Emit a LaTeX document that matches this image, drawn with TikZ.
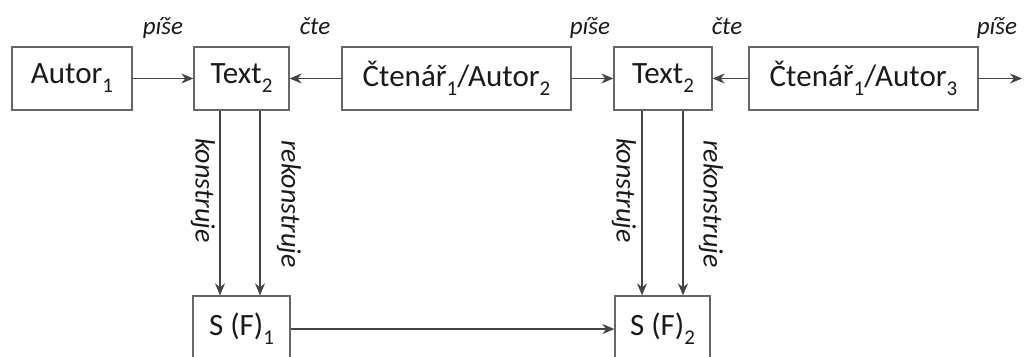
\documentclass[tikz,border=0pt]{standalone}
\usepackage{fontspec}
\setmainfont{Carlito}
\usetikzlibrary{arrows.meta}
\newcommand\lowidx[1]{\raisebox{-9pt}{\fontsize{21}{21}\selectfont #1}}
\definecolor{linegray}{HTML}{444444}
\definecolor{boxgray}{HTML}{666666}
\definecolor{txt}{HTML}{1A1A1A}
\begin{document}
\begin{tikzpicture}[x=1pt,y=-1pt,
  box/.style={draw=boxgray,line width=1.3pt,inner sep=0pt,minimum height=63pt,
    text=txt,font=\fontsize{31}{37}\selectfont},
  conn/.style={draw=linegray,line width=1.2pt,-{Stealth[length=12pt,width=10pt]}},
  lab/.style={text=txt,font=\fontsize{25}{30}\selectfont\itshape,inner sep=0pt},
  vlab/.style={lab,font=\fontsize{28}{32}\selectfont\itshape,rotate=-90,anchor=west}]
\useasboundingbox (0,0) rectangle (1024,356);
\clip (0,0) rectangle (1024,356);
\fill[white] (0,0) rectangle (1024,356);
% top row
\node[box,minimum width=120pt] (a1) at (72,78.5) {Autor\lowidx{1}};
\node[box,minimum width=95pt] (t1) at (241.5,78.5) {Text\lowidx{2}};
\node[box,minimum width=229pt] (c2) at (456.5,78.5) {Čtenář\lowidx{1}/Autor\lowidx{2}};
\node[box,minimum width=98pt] (t2) at (663,78.5) {Text\lowidx{2}};
\node[box,minimum width=229pt] (c3) at (863.5,78.5) {Čtenář\lowidx{1}/Autor\lowidx{3}};
\coordinate (out) at (1022,78.5);
% bottom row
\node[box,minimum width=97pt,minimum height=66pt] (s1) at (241.5,329) {S (F)\lowidx{1}};
\node[box,minimum width=95pt,minimum height=66pt] (s2) at (662.5,329) {S (F)\lowidx{2}};
% horizontal connectors
\draw[conn] (a1) -- (t1);
\draw[conn] (c2) -- (t1);
\draw[conn] (c2) -- (t2);
\draw[conn] (c3) -- (t2);
\draw[conn] (c3) -- (out);
\draw[conn] (s1) -- (s2);
% vertical connectors
\draw[conn] ([xshift=-21.5pt]t1.south) -- ([xshift=-21.5pt]t1.south |- s1.north);
\draw[conn] ([xshift=18.5pt]t1.south) -- ([xshift=18.5pt]t1.south |- s1.north);
\draw[conn] ([xshift=-21pt]t2.south) -- ([xshift=-21pt]t2.south |- s2.north);
\draw[conn] ([xshift=20pt]t2.south) -- ([xshift=20pt]t2.south |- s2.north);
% labels
\node[lab,anchor=base] (l1) at (163,34) {píše};
\node[lab,anchor=base] (l2) at (315,34) {čte};
\node[lab,anchor=base] (l3) at (590,34) {píše};
\node[lab,anchor=base] (l4) at (727,34) {čte};
\node[lab,anchor=base] (l5) at (997,34) {píše};
\node[vlab] (k1) at (203,138) {konstruje};
\node[vlab] (r1) at (289,140) {rekonstruje};
\node[vlab] (k2) at (624,138) {konstruje};
\node[vlab] (r2) at (711,140) {rekonstruje};
\end{tikzpicture}
\end{document}
